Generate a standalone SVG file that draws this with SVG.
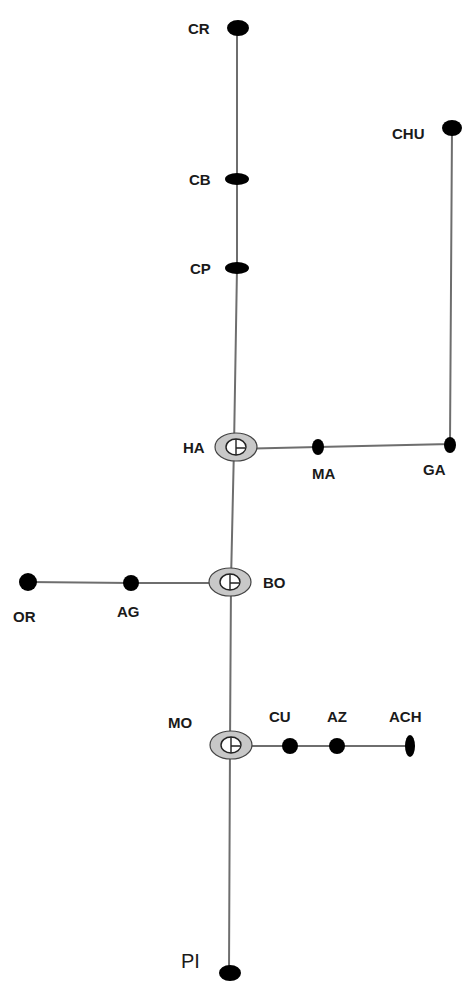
<svg xmlns="http://www.w3.org/2000/svg" width="462" height="981" viewBox="0 0 462 981">
  <style>
    .line { stroke: #6e6e6e; stroke-width: 2; fill: none; }
    .dot { fill: #000; }
    .lbl { font-family: "Liberation Sans", Arial, sans-serif; font-weight: bold; font-size: 15px; fill: #1a1a1a; }
    .big { font-family: "Liberation Sans", Arial, sans-serif; font-size: 20px; fill: #1a1a1a; }
    .ring { fill: #c8c8c8; stroke: #444; stroke-width: 1.2; }
    .hole { fill: #fff; stroke: #222; stroke-width: 1.4; }
    .mark { stroke: #222; stroke-width: 1.4; fill: none; }
  </style>
  <defs>
    <!-- interchange station: grey ring with white hub and cross mark -->
    <g id="station">
      <ellipse class="ring" cx="0" cy="0" rx="21" ry="14"/>
      <ellipse class="hole" cx="0" cy="0" rx="10" ry="8"/>
      <path class="mark" d="M0,-8 V8 M0,1 H9"/>
    </g>
  </defs>

  <g id="connectors">
    <polyline class="line" points="237,28 237,179 237,268 234,447 231,581 230,745 229,973"/>
    <polyline class="line" points="234,449 318,447 450,444 452,128"/>
    <polyline class="line" points="28,582 131,583 231,583"/>
    <polyline class="line" points="230,746 410,746"/>
  </g>

  <g id="CR"><ellipse class="dot" cx="238" cy="28" rx="11" ry="8"/><text class="lbl" x="188" y="34">CR</text></g>
  <g id="CB"><ellipse class="dot" cx="237" cy="179" rx="12" ry="6"/><text class="lbl" x="189" y="185">CB</text></g>
  <g id="CP"><ellipse class="dot" cx="237" cy="268" rx="12" ry="6"/><text class="lbl" x="190" y="274">CP</text></g>
  <g id="CHU"><ellipse class="dot" cx="452" cy="128" rx="10" ry="8"/><text class="lbl" x="392" y="139">CHU</text></g>

  <g id="HA"><use href="#station" x="236" y="447"/><text class="lbl" x="183" y="453">HA</text></g>
  <g id="MA"><ellipse class="dot" cx="318" cy="447" rx="6" ry="8"/><text class="lbl" x="312" y="479">MA</text></g>
  <g id="GA"><ellipse class="dot" cx="450" cy="445" rx="6" ry="8"/><text class="lbl" x="423" y="475">GA</text></g>

  <g id="BO"><use href="#station" x="230" y="582"/><text class="lbl" x="263" y="588">BO</text></g>
  <g id="AG"><ellipse class="dot" cx="131" cy="583" rx="8" ry="8"/><text class="lbl" x="117" y="617">AG</text></g>
  <g id="OR"><ellipse class="dot" cx="28" cy="582" rx="9" ry="9"/><text class="lbl" x="13" y="622">OR</text></g>

  <g id="MO"><use href="#station" x="231" y="745"/><text class="lbl" x="168" y="728">MO</text></g>
  <g id="CU"><ellipse class="dot" cx="290" cy="746" rx="8" ry="8"/><text class="lbl" x="269" y="722">CU</text></g>
  <g id="AZ"><ellipse class="dot" cx="337" cy="746" rx="8" ry="8"/><text class="lbl" x="327" y="722">AZ</text></g>
  <g id="ACH"><ellipse class="dot" cx="410" cy="746" rx="5" ry="11"/><text class="lbl" x="389" y="722">ACH</text></g>

  <g id="PI"><ellipse class="dot" cx="230" cy="973" rx="11" ry="8"/><text class="big" x="181" y="968">PI</text></g>
</svg>
